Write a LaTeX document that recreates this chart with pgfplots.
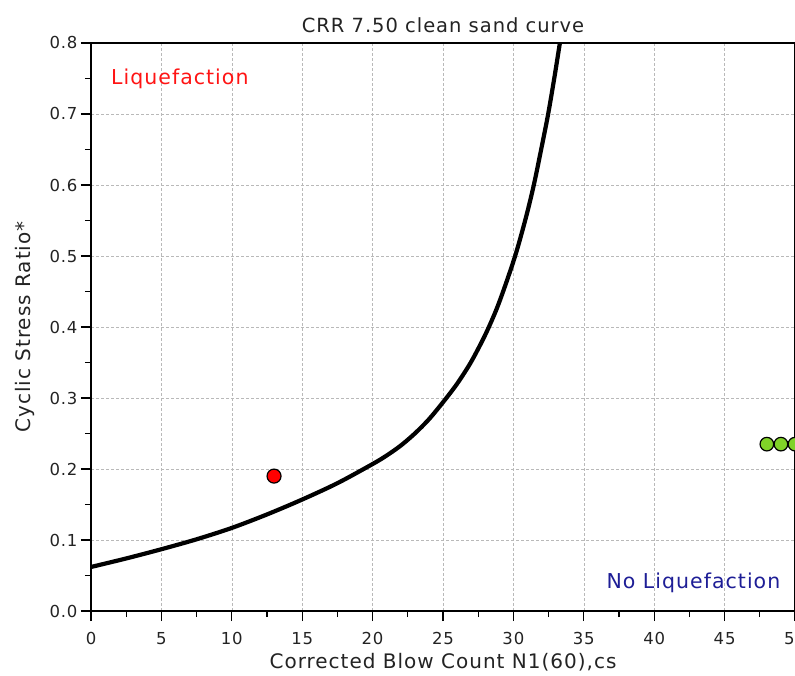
\documentclass[border=0pt]{standalone}
\usepackage{pgfplots}
\pgfplotsset{compat=1.18}
\usepackage{fontspec}
\setmainfont{DejaVu Sans}[LetterSpace=5]
\definecolor{liqred}{RGB}{255,20,20}
\definecolor{noliq}{RGB}{30,30,150}
\definecolor{ptgreen}{RGB}{128,210,40}
\definecolor{txt}{RGB}{35,35,35}

\begin{document}
\begin{tikzpicture}
\begin{axis}[
  width=704pt, height=568pt, scale only axis,
  xmin=0, xmax=50, ymin=0, ymax=0.8,
  xtick={0,5,10,15,20,25,30,35,40,45,50},
  ytick={0,0.1,0.2,0.3,0.4,0.5,0.6,0.7,0.8},
  minor x tick num=1, minor y tick num=1,
  tick align=outside, xtick pos=left, ytick pos=left,
  major tick length=10pt, minor tick length=6pt,
  axis line style={line width=1.6pt},
  every tick/.style={black, line width=1.3pt},
  grid=major, major grid style={densely dashed, gray!55, line width=0.6pt},
  /pgf/number format/assume math mode=true,
  ticklabel style={font=\fontsize{16.5}{18}\selectfont, text=txt},
  xticklabel style={yshift=-8pt},
  yticklabel style={/pgf/number format/.cd, fixed, fixed zerofill, precision=1},
  xlabel={Corrected Blow Count N1(60),cs},
  ylabel={Cyclic Stress Ratio*},
  label style={font=\fontsize{20}{22}\selectfont, text=txt},
  xlabel style={at={(axis description cs:0.5,-0.1004)}, anchor=base},
  ylabel style={at={(axis description cs:-0.0866,0.5)}, anchor=base},
]
\addplot[black, line width=4.2pt, smooth, tension=0.5] coordinates {
  (0,0.062) (2.5,0.074) (5,0.087) (7.5,0.101) (10,0.117) (12.5,0.136)
  (15,0.157) (17.5,0.180) (20,0.207) (21,0.219) (22,0.233) (23,0.250)
  (24,0.270) (25,0.294) (26,0.320) (27,0.351) (28,0.389) (28.8,0.425)
  (29.5,0.463) (30.2,0.505) (30.9,0.555) (31.45,0.600) (31.95,0.648)
  (32.45,0.698) (32.9,0.750) (33.3,0.800)
};
\addplot[only marks, mark=*, mark size=7pt, mark options={fill=red, draw=black, line width=1.2pt}]
  coordinates {(13,0.19)};
\addplot[only marks, mark=*, mark size=6.8pt, mark options={fill=ptgreen, draw=black, line width=1.2pt}]
  coordinates {(48,0.235) (49,0.235) (50,0.235)};
\node[anchor=base west, inner sep=0, text=liqred, font=\fontsize{20.5}{22}\selectfont] at (axis cs:1.42,0.742) {Liquefaction};
\node[anchor=base west, inner sep=0, text=noliq, font=\fontsize{20.5}{22}\selectfont] at (axis cs:36.6,0.032) {No Liquefaction};
\end{axis}
\node[anchor=base, inner sep=0, text=txt, font=\fontsize{19.5}{22}\selectfont, yshift=10pt] at (current axis.north) {CRR 7.50 clean sand curve};
\pgfresetboundingbox
\path ([xshift=-91pt,yshift=-64pt]current axis.south west) rectangle ([yshift=43pt]current axis.north east);
\end{tikzpicture}
\end{document}
